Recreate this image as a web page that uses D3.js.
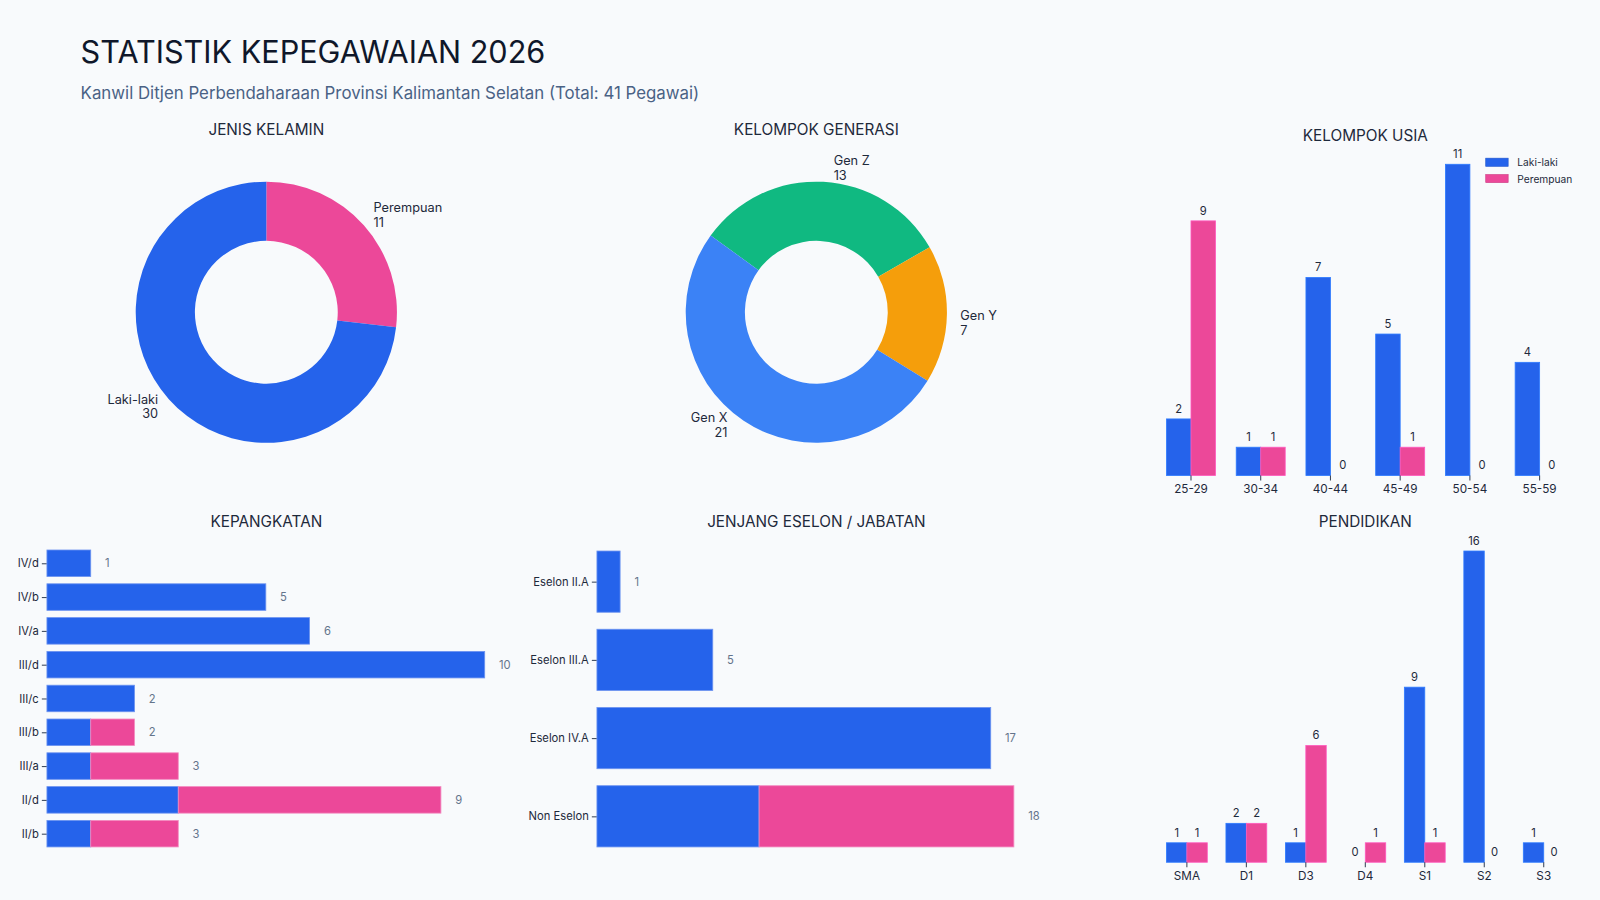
<!DOCTYPE html>
<html><head><meta charset="utf-8">
<script src="https://cdn.jsdelivr.net/npm/d3@7"></script>
<style>body{margin:0;background:#f8fafc;}svg{display:block;font-family:Inter,"Noto Sans",sans-serif;}</style>
</head><body><svg id="c" width="1600" height="900" viewBox="0 0 1568 882"></svg>
<script>
const BLUE="#2563eb", PINK="#ec4899", TXT="#1e293b", VAL="#64748b";
const genderLabels=["Perempuan","Laki-laki"], genderValues=[11,30], genderColors=[PINK,BLUE];
const genLabels=["Gen Z","Gen Y","Gen X"], genValues=[13,7,21], genColors=["#10b981","#f59e0b","#3b82f6"];
const ageCats=["25-29","30-34","40-44","45-49","50-54","55-59"];
const ageMale=[2,1,7,5,11,4], ageFemale=[9,1,0,1,0,0];
const rankCats=["IV/d","IV/b","IV/a","III/d","III/c","III/b","III/a","II/d","II/b"];
const rankMale=[1,5,6,10,2,1,1,3,1], rankFemale=[0,0,0,0,0,1,2,6,2];
const eselonCats=["Eselon II.A","Eselon III.A","Eselon IV.A","Non Eselon"];
const eselonMale=[1,5,17,7], eselonFemale=[0,0,0,11];
const eduCats=["SMA","D1","D3","D4","S1","S2","S3"];
const eduMale=[1,2,1,0,9,16,1], eduFemale=[1,2,6,1,1,0,0];

const svg=d3.select("#c");
svg.append("rect").attr("width",1568).attr("height",882).attr("fill","#f8fafc");
svg.append("text").attr("x",79).attr("y",62).attr("font-size",30).attr("fill","#0f172a").text("STATISTIK KEPEGAWAIAN 2026");
svg.append("text").attr("x",79).attr("y",97).attr("font-size",16.5).attr("fill","#4a6285").text("Kanwil Ditjen Perbendaharaan Provinsi Kalimantan Selatan (Total: 41 Pegawai)");
function title(x,y,t){svg.append("text").attr("x",x).attr("y",y).attr("text-anchor","middle").attr("font-size",15).attr("fill",TXT).text(t);}
title(261,132,"JENIS KELAMIN");title(800,132,"KELOMPOK GENERASI");title(1338,138,"KELOMPOK USIA");
title(261,516,"KEPANGKATAN");title(800,516,"JENJANG ESELON / JABATAN");title(1338,516,"PENDIDIKAN");

function donut(cx,cy,labels,values,colors,start,labelPos){
  const pie=d3.pie().sort(null).startAngle(start).endAngle(start+2*Math.PI)(values);
  const arc=d3.arc().innerRadius(70).outerRadius(128);
  const g=svg.append("g").attr("transform",`translate(${cx},${cy})`);
  g.selectAll("path").data(pie).join("path").attr("d",arc).attr("fill",(d,i)=>colors[i]);
  labels.forEach((l,i)=>{const p=labelPos[i];
    const t=svg.append("text").attr("font-size",12.5).attr("fill",TXT).attr("text-anchor",p[2]);
    t.append("tspan").attr("x",p[0]).attr("y",p[1]).text(l);
    t.append("tspan").attr("x",p[0]).attr("dy",14).text(values[i]);});
}
donut(261,306,genderLabels,genderValues,genderColors,0,[[366,208,"start"],[155,396,"end"]]);
donut(800,306,genLabels,genValues,genColors,-54*Math.PI/180,[[817,162,"start"],[941,314,"start"],[713,414,"end"]]);

function grouped(cats,male,female,x0,x1,y0,yTop,maxV,bw,tickY){
  const x=d3.scaleBand().domain(cats).range([x0,x1]);
  const y=d3.scaleLinear().domain([0,maxV]).range([y0,yTop]);
  const g=svg.append("g");
  const ax=svg.append("g").attr("transform",`translate(0,${y0})`).call(d3.axisBottom(x).tickSize(5).tickPadding(4));
  ax.select(".domain").remove();ax.selectAll("line").attr("stroke","#334155");
  ax.selectAll("text").attr("font-size",11.5).attr("fill",TXT).attr("font-family","Inter,sans-serif");
  [[male,BLUE,-1],[female,PINK,0]].forEach(([vals,col,off])=>{
    cats.forEach((c,i)=>{const cx=x(c)+x.bandwidth()/2+off*bw;
      if(vals[i]>0) g.append("rect").attr("x",cx).attr("y",y(vals[i])).attr("width",bw).attr("height",y0-y(vals[i])).attr("fill",col).attr("stroke",d3.color(col).brighter(0.6)).attr("stroke-width",0.8);
      g.append("text").attr("x",cx+bw/2).attr("y",y(vals[i])-6).attr("text-anchor","middle").attr("font-size",11).attr("fill",TXT).text(vals[i]);
    });});
}
grouped(ageCats,ageMale,ageFemale,1133,1543,466,161,11,24);
grouped(eduCats,eduMale,eduFemale,1134,1542,845,540,16,20);

function stacked(cats,male,female,x0,unit,yA,yB,bh,maxV,labFs){
  const x=d3.scaleLinear().domain([0,maxV]).range([x0,x0+unit*maxV]);
  const y=d3.scalePoint().domain(cats).range([yA,yB]);
  const ax=svg.append("g").attr("transform",`translate(${x0},0)`).call(d3.axisLeft(y).tickSize(5).tickPadding(3));
  ax.select(".domain").remove();ax.selectAll("line").attr("stroke","#334155");
  ax.selectAll("text").attr("font-size",labFs).attr("fill",TXT).attr("font-family","Inter,sans-serif");
  cats.forEach((c,i)=>{const cy=y(c)-bh/2;
    svg.append("rect").attr("x",x(0)).attr("y",cy).attr("width",x(male[i])-x(0)).attr("height",bh).attr("fill",BLUE).attr("stroke","#6d93f0").attr("stroke-width",0.8);
    if(female[i]>0) svg.append("rect").attr("x",x(male[i])).attr("y",cy).attr("width",x(male[i]+female[i])-x(male[i])).attr("height",bh).attr("fill",PINK).attr("stroke","#f38cc0").attr("stroke-width",0.8);
    svg.append("text").attr("x",x(male[i]+female[i])+14).attr("y",y(c)+4).attr("font-size",11).attr("fill",VAL).text(male[i]+female[i]);
  });
}
stacked(rankCats,rankMale,rankFemale,46,42.9,552,817,26,10,11);
stacked(eselonCats,eselonMale,eselonFemale,585,22.7,570,800,60,18,11);

// legend
[["Laki-laki",BLUE],["Perempuan",PINK]].forEach(([t,c],i)=>{
  svg.append("rect").attr("x",1456).attr("y",155+i*16).attr("width",22).attr("height",8).attr("fill",c).attr("stroke",d3.color(c).darker(0.4)).attr("stroke-width",0.6);
  svg.append("text").attr("x",1487).attr("y",163+i*16).attr("font-size",10).attr("fill",TXT).text(t);
});
</script></body></html>
